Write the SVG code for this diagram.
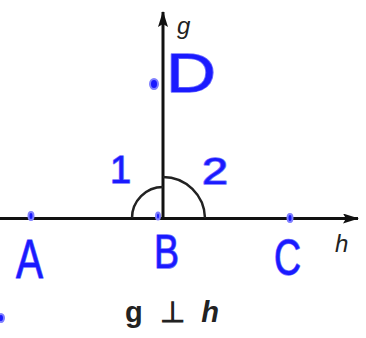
<svg xmlns="http://www.w3.org/2000/svg" width="366" height="338" viewBox="0 0 366 338">
<defs>
<marker id="arr" viewBox="0 0 16 10" refX="15" refY="5" markerWidth="16" markerHeight="10" markerUnits="userSpaceOnUse" orient="auto">
<path d="M0,0 L16,5 L0,10 L3,5 Z" fill="#111"/>
</marker>
</defs>
<style>
.ax{stroke:#111;stroke-width:3;fill:none}
.arc{stroke:#222;stroke-width:2.5;fill:none}
.lbl{font-family:"Liberation Sans",Arial,sans-serif;fill:#222}
.hw{font-family:"Liberation Sans",Arial,sans-serif;fill:#1a1aff;stroke:#6f6fff;stroke-width:1.5;stroke-linejoin:round;paint-order:stroke}
.dot{fill:#1a1aff;stroke:#7f7fff;stroke-width:2}
</style>
<rect width="366" height="338" fill="#fff"/>
<g id="connectors">
<line class="ax" x1="0" y1="218.5" x2="358" y2="218.5" marker-end="url(#arr)"/>
<line class="ax" x1="163" y1="218.5" x2="163" y2="12" marker-end="url(#arr)"/>
<path class="arc" d="M132,218 A31,31 0 0 1 163,187"/>
<path class="arc" d="M163,177 A42,42 0 0 1 205,218"/>
</g>
<g id="label-g"><text class="lbl" x="177" y="34" font-size="24" font-style="italic">g</text></g>
<g id="label-h"><text class="lbl" x="335" y="252" font-size="24" font-style="italic">h</text></g>
<g id="caption"><text class="lbl" x="125" y="322" font-size="29" font-weight="bold" textLength="94" lengthAdjust="spacing">g ⊥ <tspan font-style="italic">h</tspan></text></g>
<g id="A"><ellipse class="dot" cx="31" cy="216" rx="2.5" ry="4"/><text class="hw" x="16" y="278" font-size="55" textLength="27" lengthAdjust="spacingAndGlyphs">A</text></g>
<g id="B"><ellipse class="dot" cx="158" cy="216" rx="2" ry="3.5"/><text class="hw" x="154" y="268" font-size="48" textLength="25" lengthAdjust="spacingAndGlyphs">B</text></g>
<g id="C"><ellipse class="dot" cx="290" cy="218" rx="2.5" ry="4"/><text class="hw" x="274" y="275" font-size="50" textLength="27" lengthAdjust="spacingAndGlyphs">C</text></g>
<g id="D"><ellipse class="dot" cx="154" cy="84" rx="4" ry="5"/><text class="hw" x="166" y="92" font-size="55" textLength="50" lengthAdjust="spacingAndGlyphs">D</text></g>
<g id="angle1"><text class="hw" x="110" y="183" font-size="38">1</text></g>
<g id="angle2"><text class="hw" x="202" y="184" font-size="36" textLength="26" lengthAdjust="spacingAndGlyphs">2</text></g>
<g id="edge-mark"><ellipse class="dot" cx="1" cy="318" rx="3" ry="4"/></g>
</svg>
